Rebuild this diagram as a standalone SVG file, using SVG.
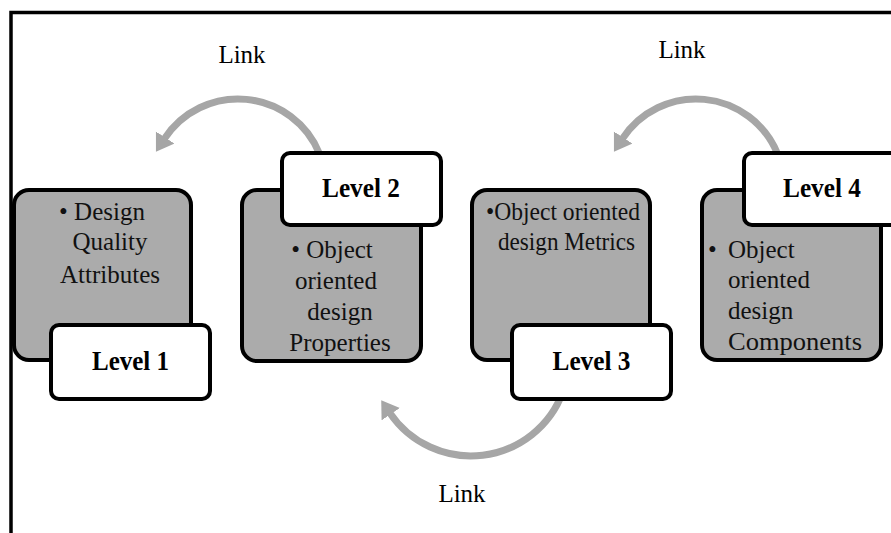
<svg xmlns="http://www.w3.org/2000/svg" width="891" height="533" viewBox="0 0 891 533">
  <style>
    .frame { fill: none; stroke: #000; stroke-width: 3.5; }
    .panel { fill: #ababab; stroke: #000; stroke-width: 4; }
    .tag { fill: #fff; stroke: #000; stroke-width: 4; }
    .tag-text { font-family: "Liberation Serif", "Times New Roman", serif; font-weight: bold; font-size: 28px; fill: #000; text-anchor: middle; }
    .body { font-family: "Liberation Serif", "Times New Roman", serif; font-size: 25px; fill: #111; }
    .mid { text-anchor: middle; }
    .link-label { font-family: "Liberation Serif", "Times New Roman", serif; font-size: 25px; fill: #000; text-anchor: middle; }
    .arc { fill: none; stroke: #a6a6a6; stroke-width: 7; }
  </style>
  <defs>
    <marker id="head" markerUnits="userSpaceOnUse" markerWidth="24" markerHeight="24" refX="2" refY="11" orient="auto">
      <path d="M0,0 L17,11 L0,22 Z" fill="#a6a6a6"/>
    </marker>
  </defs>

  <rect width="891" height="533" fill="#fff"/>

  <!-- outer frame: top and left edges only -->
  <path class="frame" d="M11,533 V12.5 H891"/>

  <!-- curved link arrows -->
  <g id="connectors">
    <path class="arc" marker-end="url(#head)" d="M319.6,154 A88,88 0 0 0 164.1,139.2"/>
    <path class="arc" marker-end="url(#head)" d="M777.6,154 A88,88 0 0 0 622.1,139.2"/>
    <path class="arc" marker-end="url(#head)" d="M563,391.5 A98,98 0 0 1 389.6,412.6"/>
    <text class="link-label" x="242" y="63">Link</text>
    <text class="link-label" x="682" y="58">Link</text>
    <text class="link-label" x="462" y="502">Link</text>
  </g>

  <g id="level1">
    <rect class="panel" x="14" y="190" width="177" height="170" rx="15"/>
    <text class="body mid" x="102" y="220">• Design</text>
    <text class="body mid" x="110" y="250">Quality</text>
    <text class="body mid" x="110" y="283">Attributes</text>
    <rect class="tag" x="51" y="325" width="159" height="74" rx="8"/>
    <text class="tag-text" x="130.5" y="370" textLength="77" lengthAdjust="spacingAndGlyphs">Level 1</text>
  </g>

  <g id="level2">
    <rect class="panel" x="242" y="190" width="179" height="171" rx="15"/>
    <text class="body mid" x="332" y="258">• Object</text>
    <text class="body mid" x="336" y="289">oriented</text>
    <text class="body mid" x="340" y="320">design</text>
    <text class="body mid" x="340" y="351">Properties</text>
    <rect class="tag" x="282" y="153" width="159" height="72" rx="8"/>
    <text class="tag-text" x="361" y="197" textLength="78" lengthAdjust="spacingAndGlyphs">Level 2</text>
  </g>

  <g id="level3">
    <rect class="panel" x="472" y="190" width="178" height="170" rx="15"/>
    <text class="body" x="486" y="220" textLength="154" lengthAdjust="spacingAndGlyphs">•Object oriented</text>
    <text class="body" x="498" y="250" textLength="137" lengthAdjust="spacingAndGlyphs">design Metrics</text>
    <rect class="tag" x="512" y="325" width="159" height="74" rx="8"/>
    <text class="tag-text" x="591.5" y="370" textLength="78" lengthAdjust="spacingAndGlyphs">Level 3</text>
  </g>

  <g id="level4">
    <rect class="panel" x="702" y="190" width="179" height="170" rx="15"/>
    <text class="body" x="708" y="258">•</text>
    <text class="body" x="728" y="258">Object</text>
    <text class="body" x="728" y="288">oriented</text>
    <text class="body" x="728" y="319">design</text>
    <text class="body" x="728" y="350" textLength="134" lengthAdjust="spacingAndGlyphs">Components</text>
    <rect class="tag" x="744" y="153" width="159" height="72" rx="8"/>
    <text class="tag-text" x="822" y="197" textLength="78" lengthAdjust="spacingAndGlyphs">Level 4</text>
  </g>
</svg>
